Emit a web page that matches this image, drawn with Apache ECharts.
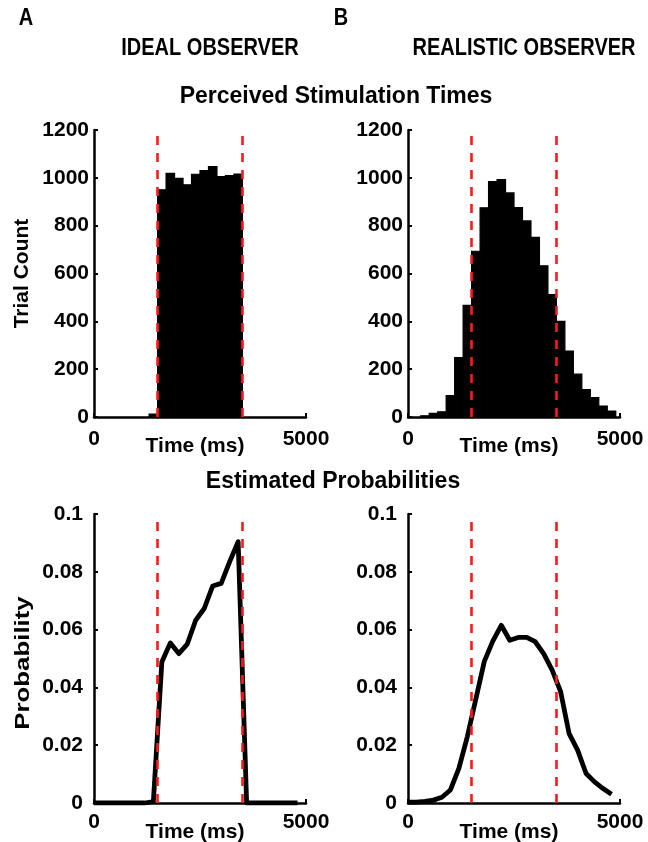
<!DOCTYPE html>
<html>
<head>
<meta charset="utf-8">
<script src="https://cdn.jsdelivr.net/npm/echarts@6/dist/echarts.min.js"></script>
<style>html,body{margin:0;padding:0;background:#fff}#c{width:648px;height:842px}</style>
</head>
<body>
<div id="c"></div>
<script>
// ---- data ----
const binCenters = [0,200,400,600,800,1000,1200,1400,1600,1800,2000,2200,2400,2600,2800,3000,3200,3400,3600,3800,4000,4200,4400,4600,4800];
const binWidth = 200;
const idealCounts = [0,0,0,0,0,0,0,12,950,1019,998,971,1015,1030,1047,1005,1009,1016,0,0,0,0,0,0,0];
const realCounts = [0,0,5,15,22,90,248,467,693,875,984,993,937,876,820,751,632,512,400,276,179,115,81,46,25];
const idealProb = [0,0,0,0,0,0,0,0.0005,0.0488,0.0554,0.0517,0.055,0.0633,0.0673,0.0751,0.076,0.0835,0.0904,0,0,0,0,0,0,0];
const realProb = [0.0003,0.0003,0.0006,0.001,0.002,0.0045,0.012,0.023,0.036,0.049,0.056,0.0615,0.0563,0.0573,0.0573,0.0558,0.0517,0.046,0.0385,0.024,0.0183,0.0102,0.0073,0.005,0.003];
const stimTimes = [1500, 3500];
const xTicks = [0, 5000];
const countTicks = [0, 1200, 200];
const probTicks = [0, 0.1, 0.02];

// ---- chart ----
const FONT = 'Liberation Sans';
const chart = echarts.init(document.getElementById('c'));
const grids = [
  {left: 94, top: 130, width: 212, height: 287},
  {left: 408, top: 130, width: 212, height: 287},
  {left: 94, top: 514, width: 212, height: 289},
  {left: 408, top: 514, width: 212, height: 289}
].map(g => Object.assign({containLabel: false, outerBoundsMode: 'none'}, g));
const axisLine = {show: true, onZero: false, lineStyle: {color: '#000', width: 2.5}};
const axisTick = {show: true, inside: true, length: 4, lineStyle: {color: '#000', width: 2}};
const labelStyle = {color: '#000', fontFamily: FONT, fontWeight: 'bold', fontSize: 21};

const xAxes = grids.map((g, i) => ({
  type: 'value', gridIndex: i, min: xTicks[0], max: xTicks[1], interval: xTicks[1] - xTicks[0],
  axisLine, axisTick, splitLine: {show: false},
  axisLabel: Object.assign({margin: i < 2 ? 12 : 9, formatter: v => String(v)}, labelStyle),
  name: 'Time (ms)', nameLocation: 'middle', nameGap: 19, nameMoveOverlap: false,
  nameTextStyle: Object.assign({}, labelStyle, {padding: [0, 10, 0, 0]})
}));
const yAxes = grids.map((g, i) => {
  const t = i < 2 ? countTicks : probTicks;
  return {
    type: 'value', gridIndex: i, min: t[0], max: t[1], interval: t[2],
    axisLine, axisTick, splitLine: {show: false},
    axisLabel: Object.assign({margin: i < 2 ? 5 : 11,
      formatter: v => (i < 2 ? String(v) : String(+v.toFixed(2)))}, labelStyle),
    name: i === 0 ? 'Trial Count' : '',
    nameLocation: 'middle', nameGap: 61, nameMoveOverlap: false,
    nameTextStyle: Object.assign({}, labelStyle)
  };
});

function histSeries(idx, counts) {
  return {
    type: 'custom', xAxisIndex: idx, yAxisIndex: idx, clip: true,
    data: binCenters.map((c, k) => [c, counts[k]]),
    renderItem: (params, api) => {
      const c = api.value(0), v = api.value(1);
      if (!v) return null;
      const p0 = api.coord([c - binWidth / 2, v]);
      const p1 = api.coord([c + binWidth / 2, 0]);
      return {type: 'rect', shape: {x: p0[0], y: p0[1], width: p1[0] - p0[0], height: p1[1] - p0[1]},
        style: {fill: '#000', stroke: '#000', lineWidth: 1.2}};
    },
    z: 2
  };
}
function lineSeries(idx, probs) {
  return {
    type: 'line', xAxisIndex: idx, yAxisIndex: idx, symbol: 'none',
    data: binCenters.map((c, k) => [c, probs[k]]),
    lineStyle: {color: '#000', width: 4.8, join: 'round', cap: 'butt'}, z: 2
  };
}
function stimSeries(idx) {
  return {
    type: 'line', xAxisIndex: idx, yAxisIndex: idx, data: [], z: 5, silent: true,
    markLine: {
      silent: true, symbol: 'none', label: {show: false},
      lineStyle: {color: '#ff1a1a', width: 2.6, type: [9, 8], opacity: 1},
      emphasis: {disabled: true},
      data: stimTimes.map(t => ({xAxis: t}))
    }
  };
}

const txt = (text, x, y, size, extra) => Object.assign({
  type: 'text', x, y,
  style: {text, fill: '#000', font: 'bold ' + size + 'px "' + FONT + '"', textAlign: 'center', textVerticalAlign: 'middle'}
}, extra || {});

chart.setOption({
  animation: false,
  grid: grids,
  xAxis: xAxes,
  yAxis: yAxes,
  series: [
    histSeries(0, idealCounts), histSeries(1, realCounts),
    lineSeries(2, idealProb), lineSeries(3, realProb),
    stimSeries(0), stimSeries(1), stimSeries(2), stimSeries(3)
  ],
  graphic: [
    txt('A', 26, 18, 20, {scaleY: 1.2}),
    txt('B', 341, 18, 20, {scaleY: 1.2}),
    txt('IDEAL OBSERVER', 210, 48, 20, {scaleY: 1.2}),
    txt('REALISTIC OBSERVER', 524, 48, 20, {scaleY: 1.2}),
    txt('Perceived Stimulation Times', 336, 97, 23),
    txt('Estimated Probabilities', 333, 482, 23),
    txt('Probability', 23.5, 663, 21, {rotation: Math.PI / 2, scaleX: 1.23})
  ]
});
</script>
</body>
</html>
